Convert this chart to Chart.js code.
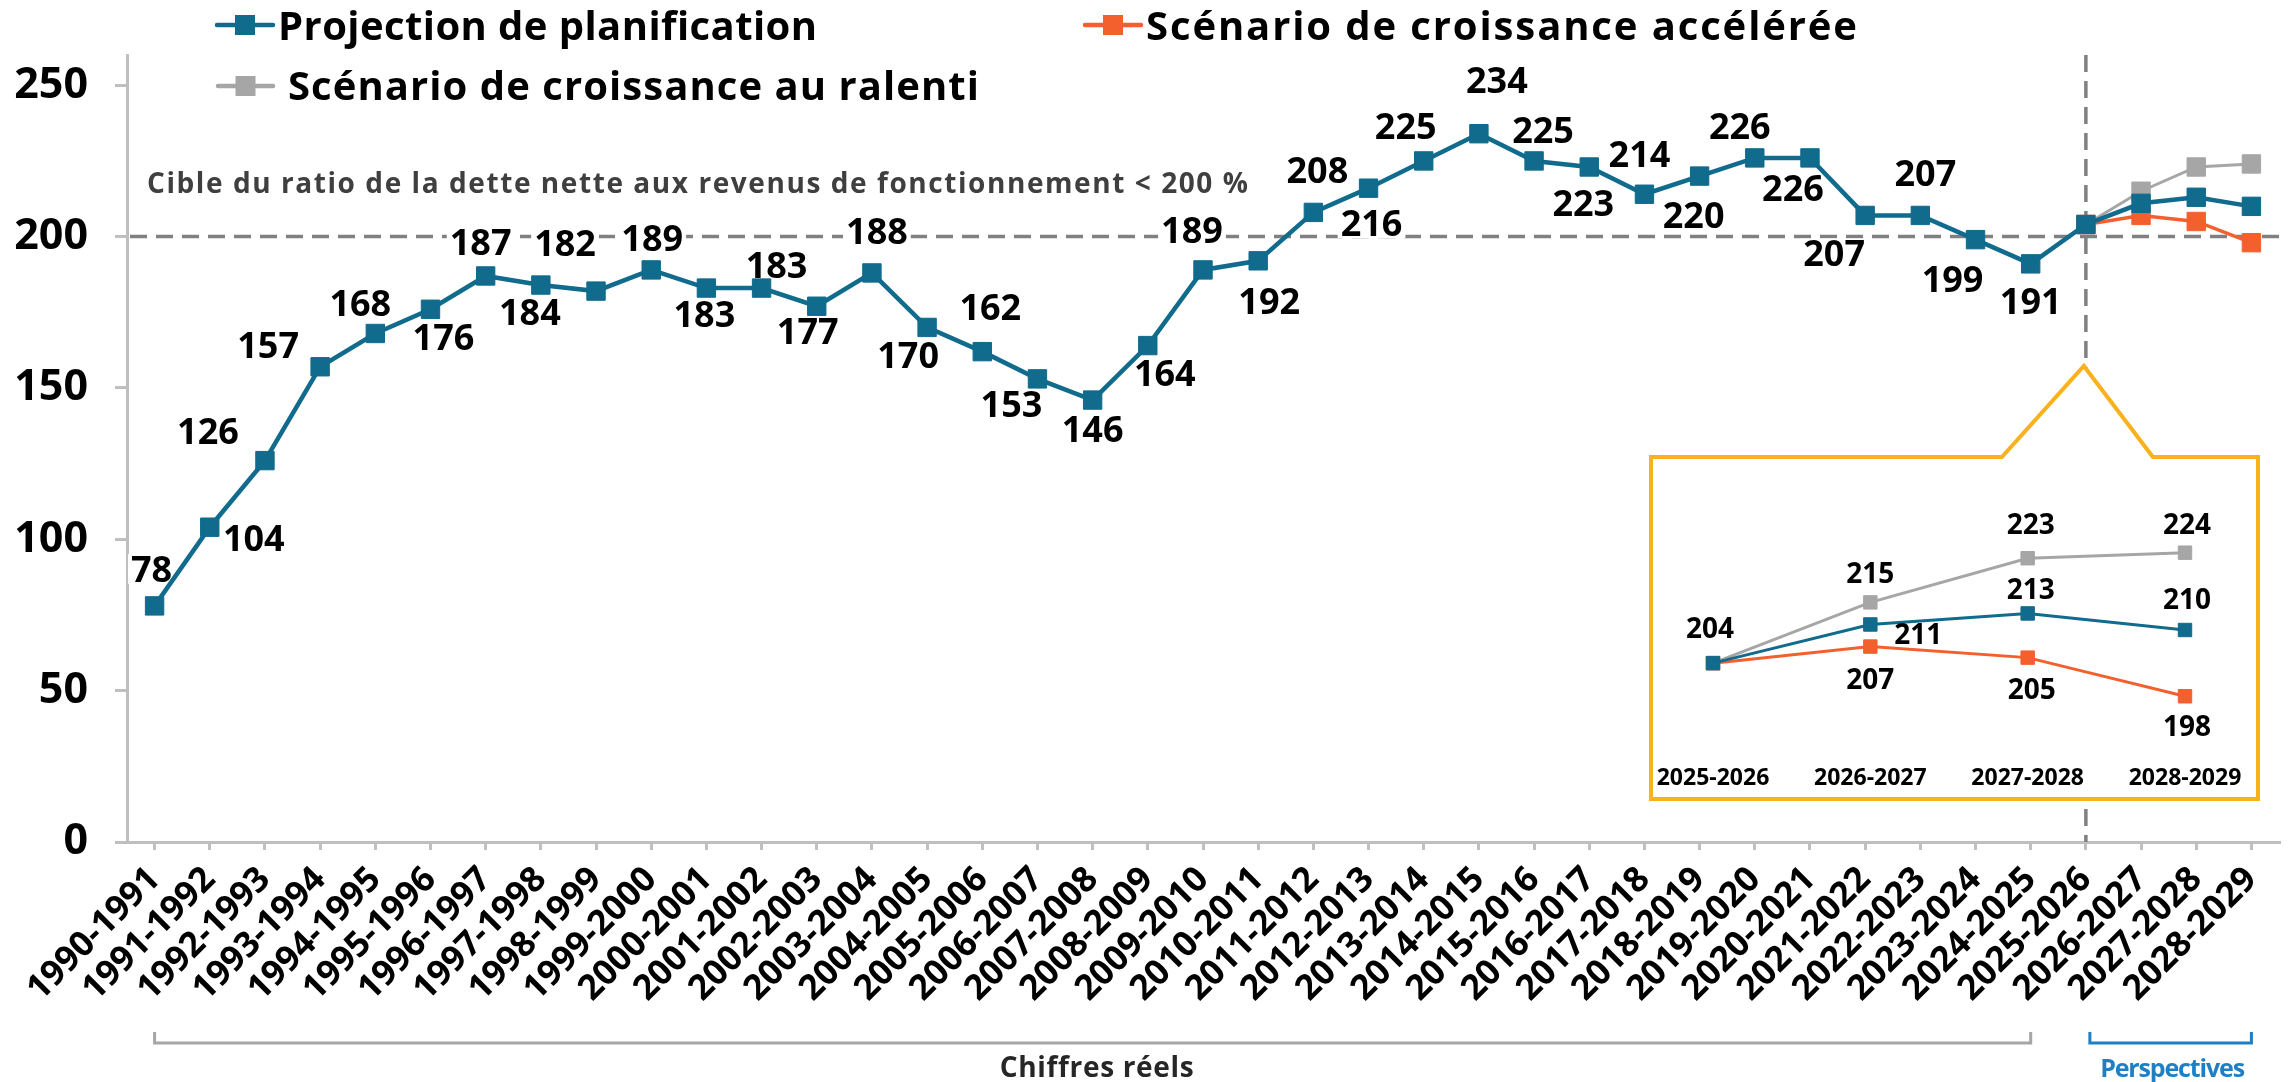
<!DOCTYPE html>
<html><head><meta charset="utf-8">
<script src="https://cdn.jsdelivr.net/npm/chart.js@4.4.1/dist/chart.umd.min.js"></script>
<style>
html,body{margin:0;padding:0;background:#fff;}
#wrap{position:relative;width:2293px;height:1082px;overflow:hidden;}
#main{position:absolute;left:0;top:0;}
#inset{position:absolute;left:1655px;top:461px;}
</style></head><body>
<div id="wrap"><canvas id="main" width="2293" height="1082"></canvas><canvas id="inset" width="599" height="334"></canvas></div>
<script>
// ---------- DATA ----------
const categories = ['1990-1991','1991-1992','1992-1993','1993-1994','1994-1995','1995-1996','1996-1997','1997-1998','1998-1999','1999-2000','2000-2001','2001-2002','2002-2003','2003-2004','2004-2005','2005-2006','2006-2007','2007-2008','2008-2009','2009-2010','2010-2011','2011-2012','2012-2013','2013-2014','2014-2015','2015-2016','2016-2017','2017-2018','2018-2019','2019-2020','2020-2021','2021-2022','2022-2023','2023-2024','2024-2025','2025-2026','2026-2027','2027-2028','2028-2029'];
const projection = [78,104,126,157,168,176,187,184,182,189,183,183,177,188,170,162,153,146,164,189,192,208,216,225,234,225,223,214,220,226,226,207,207,199,191,204,211,213,210];
const accelerated = [null,null,null,null,null,null,null,null,null,null,null,null,null,null,null,null,null,null,null,null,null,null,null,null,null,null,null,null,null,null,null,null,null,null,null,204,207,205,198];
const slowed = [null,null,null,null,null,null,null,null,null,null,null,null,null,null,null,null,null,null,null,null,null,null,null,null,null,null,null,null,null,null,null,null,null,null,null,204,215,223,224];
const yTickValues = [0,50,100,150,200,250];
const targetValue = 200;
const firstOutlookIndex = 35;
const seriesNames = ['Projection de planification','Scénario de croissance accélérée','Scénario de croissance au ralenti'];
const targetText = 'Cible du ratio de la dette nette aux revenus de fonctionnement < 200 %';
const actualText = 'Chiffres réels';
const outlookText = 'Perspectives';
const insetCategories = categories.slice(firstOutlookIndex);
const insetProjection = projection.slice(firstOutlookIndex);
const insetAccelerated = accelerated.slice(firstOutlookIndex);
const insetSlowed = slowed.slice(firstOutlookIndex);

// ---------- STYLE ----------
const FONT = "'Open Sans', 'DejaVu Sans', sans-serif";
const BLUE = '#106B8D', ORANGE = '#F4602D', GRAY = '#A6A6A6';
const AXIS = '#BFBFBF', DASH = '#808080', GOLD = '#F9B21D', LINKBLUE = '#1F7FC4';
// label placement (dx, dy from point) for the main chart, actual years only
const labelShift = [[-3,-37],[44,11],[-57,-29],[-52,-22],[-15,-30],[13,28],[-5,-34],[-11,27],[-31,-48],[1,-32],[-2,26],[15,-23],[-9,25],[5,-42],[-19,28],[8,-44],[-26,25],[0,29],[17,28],[-11,-40],[11,40],[4,-42],[3,35],[-18,-35],[18,-54],[9,-31],[-6,36],[-5,-40],[-6,39],[-15,-32],[-17,30],[-31,38],[5,-42],[-23,40],[0,37]];
const insetShift = [
  [[-3,-35],[48,10],[3,-24],[2,-31]],
  [null,[0,32],[4,31],[2,30]],
  [null,[0,-29],[3,-34],[2,-29]]
];

Chart.defaults.font.family = FONT;
Chart.defaults.font.weight = 'bold';
Chart.defaults.color = '#000';

function spacedText(ctx, text, x, y, targetW, align) {
  ctx.letterSpacing = '0px';
  const w = ctx.measureText(text).width;
  const n = Array.from(text).length;
  const ls = n > 1 ? (targetW - w) / (n - 1) : 0;
  ctx.letterSpacing = ls + 'px';
  ctx.textAlign = 'left';
  const sx = align === 'center' ? x - targetW / 2 : x;
  ctx.fillText(text, sx, y);
  ctx.letterSpacing = '0px';
}

function legendItem(ctx, x1, x2, yc, color, text, tx, baseline, tw) {
  ctx.save();
  ctx.strokeStyle = color; ctx.lineWidth = 4.5; ctx.lineCap = 'round';
  ctx.beginPath(); ctx.moveTo(x1, yc); ctx.lineTo(x2, yc); ctx.stroke();
  ctx.fillStyle = color;
  const cx = (x1 + x2) / 2;
  ctx.fillRect(cx - 10, yc - 10, 20, 20);
  ctx.fillStyle = '#000';
  ctx.font = 'bold 40px ' + FONT;
  ctx.textBaseline = 'alphabetic';
  spacedText(ctx, text, tx, baseline, tw, 'left');
  ctx.restore();
}

const LABEL_SIZE = 36;
const mainDecor = {
  id: 'mainDecor',
  beforeDatasetsDraw(chart) {
    const { ctx, chartArea: a, scales: { x, y } } = chart;
    ctx.save();
    ctx.strokeStyle = DASH; ctx.lineWidth = 3.5; ctx.setLineDash([17, 9]);
    const yy = y.getPixelForValue(targetValue);
    ctx.beginPath(); ctx.moveTo(a.left + 3, yy); ctx.lineTo(a.right, yy); ctx.stroke();
    const xx = x.getPixelForValue(firstOutlookIndex);
    ctx.beginPath(); ctx.moveTo(xx, a.top); ctx.lineTo(xx, a.bottom); ctx.stroke();
    ctx.setLineDash([]);
    // white backgrounds for labels
    ctx.font = 'bold ' + LABEL_SIZE + 'px ' + FONT;
    const meta = chart.getDatasetMeta(0);
    ctx.fillStyle = '#fff';
    labelShift.forEach((s, i) => {
      const p = meta.data[i];
      const w = ctx.measureText(String(projection[i])).width;
      const h = LABEL_SIZE * 0.714;
      ctx.fillRect(p.x + s[0] - w / 2 - 3, p.y + s[1] - h / 2 - 2, w + 6, h + 4);
    });
    // target text
    ctx.fillStyle = '#3F3F3F';
    ctx.font = 'bold 28px ' + FONT;
    ctx.textBaseline = 'alphabetic';
    spacedText(ctx, targetText, 147, 193, 1101, 'left');
    ctx.restore();
  },
  afterDatasetsDraw(chart) {
    const { ctx } = chart;
    const meta = chart.getDatasetMeta(0);
    ctx.save();
    ctx.font = 'bold ' + LABEL_SIZE + 'px ' + FONT;
    ctx.fillStyle = '#000';
    ctx.textAlign = 'center';
    ctx.textBaseline = 'alphabetic';
    labelShift.forEach((s, i) => {
      const p = meta.data[i];
      ctx.fillText(String(projection[i]), p.x + s[0], p.y + s[1] + LABEL_SIZE * 0.357);
    });
    ctx.restore();
  },
  afterDraw(chart) {
    const { ctx, scales: { x } } = chart;
    ctx.save();
    // callout box for the inset
    const tipX = x.getPixelForValue(firstOutlookIndex) - 2;
    ctx.beginPath();
    ctx.moveTo(1651, 457); ctx.lineTo(tipX - 82, 457); ctx.lineTo(tipX, 366);
    ctx.lineTo(tipX + 69, 457); ctx.lineTo(2258, 457); ctx.lineTo(2258, 799);
    ctx.lineTo(1651, 799); ctx.closePath();
    ctx.fillStyle = '#fff'; ctx.fill();
    ctx.strokeStyle = GOLD; ctx.lineWidth = 4; ctx.lineJoin = 'miter'; ctx.stroke();
    // legend
    legendItem(ctx, 217, 273, 25, BLUE, seriesNames[0], 278, 40, 539);
    legendItem(ctx, 1085, 1141, 25, ORANGE, seriesNames[1], 1146, 40, 711);
    legendItem(ctx, 218, 273, 86, GRAY, seriesNames[2], 288, 100, 691);
    // brackets
    const x0 = x.getPixelForValue(0), x1 = x.getPixelForValue(firstOutlookIndex - 1);
    const x2 = x.getPixelForValue(firstOutlookIndex), x3 = x.getPixelForValue(categories.length - 1);
    ctx.lineWidth = 3; ctx.lineJoin = 'miter'; ctx.lineCap = 'butt';
    ctx.strokeStyle = GRAY;
    ctx.beginPath(); ctx.moveTo(x0, 1032); ctx.lineTo(x0, 1043); ctx.lineTo(x1, 1043); ctx.lineTo(x1, 1032); ctx.stroke();
    ctx.strokeStyle = LINKBLUE;
    ctx.beginPath(); ctx.moveTo(x2 + 4, 1032); ctx.lineTo(x2 + 4, 1043); ctx.lineTo(x3, 1043); ctx.lineTo(x3, 1032); ctx.stroke();
    ctx.textBaseline = 'alphabetic';
    ctx.fillStyle = '#262626';
    ctx.font = 'bold 28px ' + FONT;
    spacedText(ctx, actualText, (x0 + x1) / 2 + 4, 1077, 194, 'center');
    ctx.fillStyle = LINKBLUE;
    ctx.font = 'bold 25px ' + FONT;
    spacedText(ctx, outlookText, (x2 + x3) / 2 + 4, 1077, 145, 'center');
    ctx.restore();
  }
};

function lineDs(label, data, color, width) {
  return {
    label, data, borderColor: color, backgroundColor: color, borderWidth: width,
    pointStyle: 'rect', pointRadius: 13, pointHoverRadius: 13, pointBorderWidth: 1,
    pointBackgroundColor: color, pointBorderColor: color, tension: 0, spanGaps: false
  };
}

new Chart(document.getElementById('main'), {
  type: 'line',
  data: {
    labels: categories,
    datasets: [
      lineDs(seriesNames[0], projection, BLUE, 4.5),
      lineDs(seriesNames[1], accelerated, ORANGE, 3.5),
      lineDs(seriesNames[2], slowed, GRAY, 3)
    ]
  },
  options: {
    responsive: false, animation: false, devicePixelRatio: 1,
    layout: { padding: { top: 55, left: 14, right: 7, bottom: 0 } },
    plugins: { legend: { display: false }, tooltip: { enabled: false } },
    scales: {
      x: {
        type: 'category', offset: true,
        grid: { display: true, drawOnChartArea: false, drawTicks: true, tickLength: 8, color: AXIS, lineWidth: 3, offset: false },
        border: { display: true, color: AXIS, width: 3 },
        ticks: { autoSkip: false, minRotation: 45, maxRotation: 45, padding: 9, color: '#000', font: { size: 35, weight: 'bold', family: FONT } },
        afterFit(s) { s.height = 240; }
      },
      y: {
        min: 0, max: 260,
        afterBuildTicks(s) { s.ticks = yTickValues.map(v => ({ value: v })); },
        grid: { display: true, drawOnChartArea: false, drawTicks: true, tickLength: 12, color: AXIS, lineWidth: 3 },
        border: { display: true, color: AXIS, width: 3 },
        ticks: { padding: 27, color: '#000', font: { size: 43, weight: 'bold', family: FONT } },
        afterFit(s) { s.width = 113; }
      }
    }
  },
  plugins: [mainDecor]
});

// ---------- INSET ----------
const INSET_LABEL = 28;
const insetLabels = {
  id: 'insetLabels',
  afterDatasetsDraw(chart) {
    const { ctx } = chart;
    const series = [insetProjection, insetAccelerated, insetSlowed];
    ctx.save();
    ctx.font = 'bold ' + INSET_LABEL + 'px ' + FONT;
    ctx.fillStyle = '#000';
    ctx.textAlign = 'center';
    ctx.textBaseline = 'alphabetic';
    series.forEach((vals, d) => {
      const meta = chart.getDatasetMeta(d);
      vals.forEach((v, i) => {
        const s = insetShift[d][i];
        if (!s || v == null) return;
        const p = meta.data[i];
        ctx.fillText(String(v), p.x + s[0], p.y + s[1] + INSET_LABEL * 0.357);
      });
    });
    ctx.restore();
  }
};

function insetDs(label, data, color) {
  return {
    label, data, borderColor: color, backgroundColor: color, borderWidth: 3,
    pointStyle: 'rect', pointRadius: 9.5, pointHoverRadius: 9.5, pointBorderWidth: 1,
    pointBackgroundColor: color, pointBorderColor: color, tension: 0
  };
}

new Chart(document.getElementById('inset'), {
  type: 'line',
  data: {
    labels: insetCategories,
    datasets: [
      insetDs(seriesNames[0], insetProjection, BLUE),
      insetDs(seriesNames[1], insetAccelerated, ORANGE),
      insetDs(seriesNames[2], insetSlowed, GRAY)
    ]
  },
  options: {
    responsive: false, animation: false, devicePixelRatio: 1,
    layout: { padding: { top: 10, left: 58, right: 69, bottom: 3.2 } },
    plugins: { legend: { display: false }, tooltip: { enabled: false } },
    scales: {
      x: {
        type: 'category', offset: false,
        grid: { display: false, drawTicks: false },
        border: { display: false },
        ticks: { autoSkip: false, maxRotation: 0, minRotation: 0, padding: 0, color: '#000', font: { size: 23, weight: 'bold', family: FONT } }
      },
      y: { display: false, min: 185.7, max: 238.7 }
    }
  },
  plugins: [insetLabels]
});
</script>
</body></html>
